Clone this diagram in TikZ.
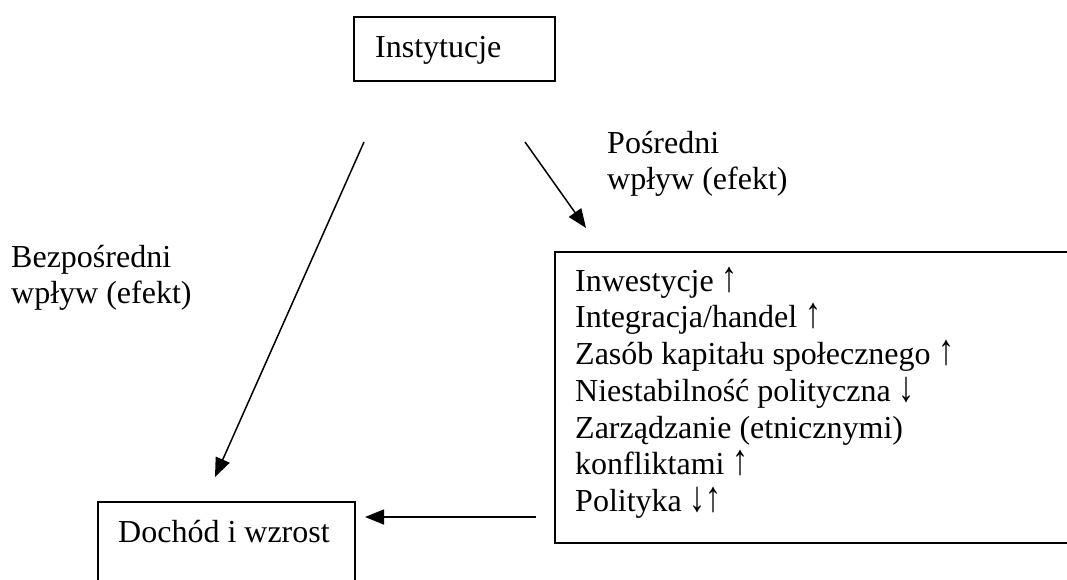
\documentclass[tikz,border=0pt]{standalone}
\usepackage{fontspec}
\setmainfont{Liberation Serif}
\usetikzlibrary{arrows.meta}
\newcommand{\arup}{\smash{\scalebox{1}[1.35]{↑}}}
\newcommand{\ardn}{\smash{\scalebox{1}[1.35]{↓}}}
\newcommand{\topstrut}{\rule{0pt}{25pt}}
\begin{document}
\begin{tikzpicture}[x=1pt,y=-1pt,
  every node/.style={font=\fontsize{32}{36.7}\selectfont, inner sep=0pt},
  box/.style={draw, line width=1.6pt, rectangle},
  txt/.style={align=left, anchor=north west},
  conn/.style={line width=1.5pt, -{Triangle[length=19pt,width=15pt]}}]
\useasboundingbox (0,0) rectangle (1067,579);
% boxes
\node[box, anchor=north west, minimum width=201pt, minimum height=64pt] (inst) at (353,16) {};
\node[box, anchor=north west, minimum width=257pt, minimum height=140pt] (doch) at (97,501) {};
\node[box, anchor=north west, minimum width=560pt, minimum height=291pt] (fact) at (554,251) {};
% texts
\node[txt] (instt) at (375,32) {\topstrut Instytucje};
\node[txt] (docht) at (118,517) {\topstrut Dochód i wzrost};
\node[txt] (factt) at (575,266) {\topstrut Inwestycje \arup\\Integracja/handel \arup\\Zasób kapitału społecznego \arup\\Niestabilność polityczna \ardn\\Zarządzanie (etnicznymi)\\konfliktami \arup\\Polityka \ardn\arup};
\node[txt] (posr) at (607,128) {\topstrut Pośredni\\wpływ (efekt)};
\node[txt] (bezp) at (11,242) {\topstrut Bezpośredni\\wpływ (efekt)};
% connectors
\coordinate (a1) at (364,142);
\coordinate (a1e) at (215,477);
\coordinate (a2) at (525,142);
\coordinate (a2e) at (586,228);
\coordinate (a3) at (536,517);
\coordinate (a3e) at (365,517);
\draw[conn] (a1) -- (a1e);
\draw[conn] (a2) -- (a2e);
\draw[conn] (a3) -- (a3e);
\end{tikzpicture}
\end{document}
